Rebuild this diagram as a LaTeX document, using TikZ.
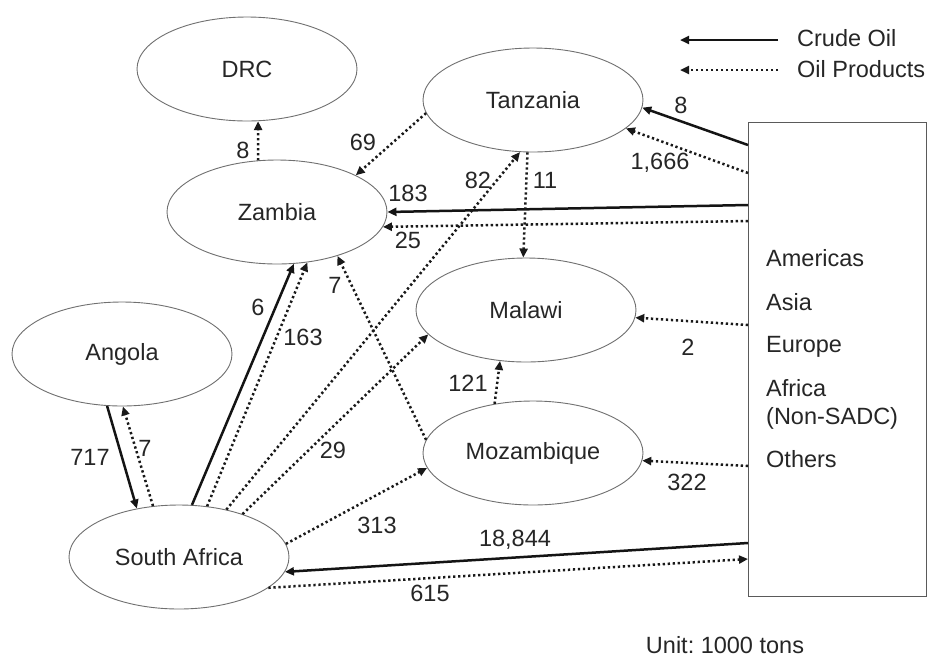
\documentclass[tikz,border=0pt]{standalone}
\usepackage{fontspec}
\setmainfont{Liberation Sans}
\usetikzlibrary{shapes.geometric,arrows.meta}
\definecolor{txt}{HTML}{262626}
\definecolor{edge}{HTML}{707070}
\tikzset{
  country/.style={ellipse,draw=edge,line width=0.9pt,minimum width=220pt,minimum height=104pt,inner sep=0pt,text=txt},
  crude/.style={line width=2.5pt,draw=black!92,-{Triangle[length=9pt,width=8pt]}},
  prod/.style={line width=2.5pt,draw=black!90,dash pattern=on 2.3pt off 2.7pt,-{Triangle[length=9pt,width=8pt]}},
  lbl/.style={text=txt,inner sep=0pt},
  boxtxt/.style={text=txt,inner sep=0pt,anchor=mid west},
}
\begin{document}
\frenchspacing
\begin{tikzpicture}[x=1pt,y=-1pt,font=\fontsize{23.5}{28}\selectfont]
\useasboundingbox (0,0) rectangle (930,657);
\fill[white] (0,0) rectangle (930,657);
% countries
\node[country] (drc) at (247,69) {DRC};
\node[country] (tan) at (533,100) {Tanzania};
\node[country] (zam) at (277,212) {Zambia};
\node[country] (mal) at (526,310) {Malawi};
\node[country] (moz) at (533,453) {Mozambique};
\node[country] (ang) at (122,354) {Angola};
\node[country] (sa) at (179,557) {South Africa};
% outside box
\node[draw=edge!80!black,line width=1pt,minimum width=178pt,minimum height=474pt,inner sep=0pt] (box) at (837,359) {};
\node[boxtxt] (tAm) at (766,264) {Americas};
\node[boxtxt] (tAs) at (766,308) {Asia};
\node[boxtxt] (tEu) at (766,350) {Europe};
\node[boxtxt] (tAf) at (766,394) {Africa};
\node[boxtxt] (tNs) at (766,422) {(Non-SADC)};
\node[boxtxt] (tOt) at (766,465) {Others};
\coordinate (b1) at (748,145);
\coordinate (b2) at (748,173);
\coordinate (b3) at (748,205);
\coordinate (b4) at (748,221);
\coordinate (b5) at (748,325);
\coordinate (b6) at (748,466);
\coordinate (b7) at (748,543);
\coordinate (b8) at (748,559);
% legend
\coordinate (l1s) at (778,40); \coordinate (l1e) at (680,40);
\coordinate (l2s) at (778,70); \coordinate (l2e) at (680,70);
\draw[crude] (l1s) -- (l1e);
\draw[prod] (l2s) -- (l2e);
\node[boxtxt,anchor=west] (lgc) at (797,38) {Crude Oil};
\node[boxtxt,anchor=west] (lgp) at (797,69) {Oil Products};
% flows from outside
\draw[crude] (b1) -- (tan.-4);
\draw[prod] (b2) -- (tan.-17);
\draw[crude] (b3) -- (zam.0);
\draw[prod] (b4) -- (zam.-8);
\draw[prod] (b5) -- (mal.-4);
\draw[prod] (b6) -- (moz.-4);
\draw[crude] (b7) -- (sa.-8.6);
\draw[prod] (sa.-19.4) -- (b8);
% internal flows
\draw[prod] (zam.110) -- (drc.-78.5);
\draw[prod] (tan.187) -- (zam.25.7);
\draw[prod] (sa.45.6) -- (tan.256.7);
\draw[prod] (tan.264.5) -- (mal.93);
\draw[crude] (sa.76) -- (zam.-72);
\draw[prod] (sa.61.7) -- (zam.-59.5);
\draw[prod] (moz.173) -- (zam.-36.3);
\draw[prod] (moz.128.8) -- (mal.243);
\draw[prod] (sa.34.5) -- (mal.194);
\draw[crude] (ang.254.5) -- (sa.131.8);
\draw[prod] (sa.117.4) -- (ang.271);
\draw[prod] (sa.7.8) -- (moz.188);
% labels
\node[lbl] (n8a) at (243,150) {8};
\node[lbl] (n69) at (363,142) {69};
\node[lbl] (n82) at (478,180) {82};
\node[lbl] (n11) at (545,180) {11};
\node[lbl] (n183) at (408,193) {183};
\node[lbl] (n25) at (408,240) {25};
\node[lbl] (n6) at (258,307) {6};
\node[lbl] (n163) at (303,337) {163};
\node[lbl] (n7a) at (335,285) {7};
\node[lbl] (n29) at (333,450) {29};
\node[lbl] (n121) at (468,383) {121};
\node[lbl] (n2) at (688,347) {2};
\node[lbl] (n322) at (687,482) {322};
\node[lbl] (n717) at (90,457) {717};
\node[lbl] (n7b) at (145,448) {7};
\node[lbl] (n313) at (377,525) {313};
\node[lbl] (n18844) at (515,540) {18,844};
\node[lbl] (n615) at (430,593) {615};
\node[lbl] (n8b) at (681,105) {8};
\node[lbl] (n1666) at (660,163) {1,666};
\node[lbl] (unit) at (725,645) {Unit: 1000 tons};
\end{tikzpicture}
\end{document}
